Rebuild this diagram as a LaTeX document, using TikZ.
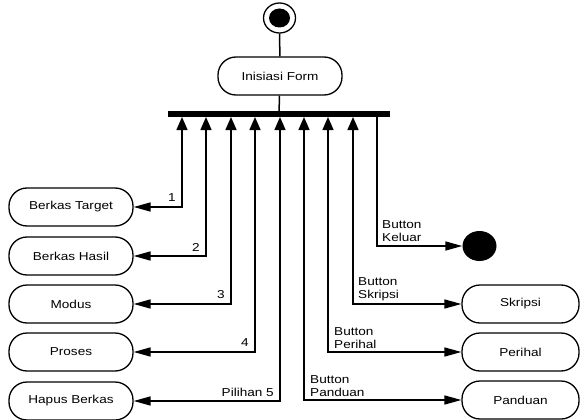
\documentclass[tikz,border=0pt]{standalone}
\usepackage{fontspec}
\setmainfont{Liberation Sans}[FakeStretch=1.18]
\usetikzlibrary{arrows.meta,shapes.geometric}
\begin{document}
\begin{tikzpicture}[x=1pt,y=-1pt,
  act/.style={draw,line width=1.3pt,rounded corners=18pt,minimum width=124pt,minimum height=38pt,inner sep=0pt,font=\fontsize{11.5}{13}\selectfont},
  ract/.style={act,minimum width=117pt},
  conn/.style={line width=1.5pt},
  tip/.style={-{Triangle[length=17pt,width=9pt]}},
  biarr/.style={{Triangle[length=13pt,width=11pt]}-{Triangle[length=17pt,width=9pt]}},
  lbl/.style={font=\fontsize{11.5}{13}\selectfont,inner sep=0pt,align=left}]
\useasboundingbox (0,0) rectangle (581,420);
% start
\node[draw,line width=1.3pt,ellipse,minimum width=32pt,minimum height=30pt,inner sep=0pt] (start) at (279.5,18) {};
\node[fill=black,ellipse,minimum width=21pt,minimum height=19pt,inner sep=0pt] (startin) at (279.5,18) {};
\node[act] (init) at (280,76) {Inisiasi Form};
\node[fill=black,minimum width=222pt,minimum height=6pt,inner sep=0pt] (bar) at (279,114) {};
\draw[conn] (start) -- (init);
\draw[conn] (init) -- (bar);
% left boxes
\node[act] (bt) at (71,207) {Berkas Target};
\node[act] (bh) at (71,256) {Berkas Hasil};
\node[act] (mo) at (71,304) {Modus};
\node[act] (pr) at (71,352) {Proses};
\node[act] (hb) at (71,401) {Hapus Berkas};
% right boxes
\node[ract] (sk) at (520.5,304) {Skripsi};
\node[ract] (pe) at (520.5,352) {Perihal};
\node[ract] (pa) at (520.5,400) {Panduan};
\node[fill=black,ellipse,minimum width=34pt,minimum height=30pt,inner sep=0pt] (fin) at (479.5,246) {};
% bar points
\coordinate (c1) at (182,117);
\coordinate (c2) at (206,117);
\coordinate (c3) at (231,117);
\coordinate (c4) at (255,117);
\coordinate (c5) at (280,117);
\coordinate (c6) at (304,117);
\coordinate (c7) at (328,117);
\coordinate (c8) at (353,117);
\coordinate (c9) at (377,117);
\draw[conn,biarr] (c1) |- (bt.east);
\draw[conn,biarr] (c2) |- (bh.east);
\draw[conn,biarr] (c3) |- (mo.east);
\draw[conn,biarr] (c4) |- (pr.east);
\draw[conn,biarr] (c5) |- (hb.east);
\draw[conn,biarr] (c6) |- (pa.west);
\draw[conn,biarr] (c7) |- (pe.west);
\draw[conn,biarr] (c8) |- (sk.west);
\draw[conn,tip] (c9) |- (fin.west);
% labels
\node[lbl] (l1) at (172,198) {1};
\node[lbl] (l2) at (196,247) {2};
\node[lbl] (l3) at (221,295) {3};
\node[lbl] (l4) at (245,343) {4};
\node[lbl,anchor=east] (l5) at (274,392) {Pilihan 5};
\node[lbl,anchor=west] (lk) at (382,231.5) {Button\\Keluar};
\node[lbl,anchor=west] (ls) at (358,289) {Button\\Skripsi};
\node[lbl,anchor=west] (lp) at (334,338.5) {Button\\Perihal};
\node[lbl,anchor=west] (lq) at (310,386.5) {Button\\Panduan};
\end{tikzpicture}
\end{document}
